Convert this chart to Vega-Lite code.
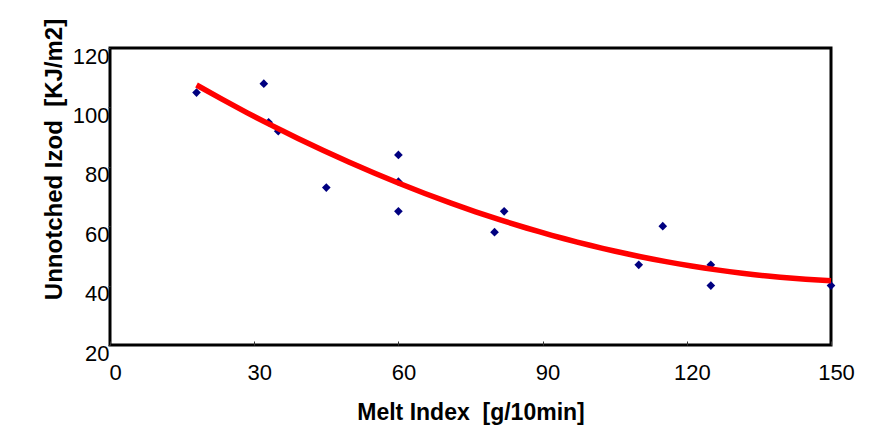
{
  "$schema": "https://vega.github.io/schema/vega-lite/v6.json",
  "width": 721,
  "height": 297,
  "autosize": {"type": "none"},
  "padding": {"left": 110, "top": 48, "right": 50, "bottom": 81},
  "background": "white",
  "config": {
    "view": {"stroke": "black", "strokeWidth": 3},
    "font": "Liberation Sans",
    "axis": {"grid": false, "domain": false, "labelColor": "black", "titleColor": "black", "tickColor": "#333", "tickWidth": 1}
  },
  "data": {
    "values": [
      {"melt": 18, "izod": 105},
      {"melt": 32, "izod": 108},
      {"melt": 33, "izod": 95},
      {"melt": 35, "izod": 92},
      {"melt": 45, "izod": 73},
      {"melt": 60, "izod": 84},
      {"melt": 60, "izod": 75},
      {"melt": 60, "izod": 65},
      {"melt": 80, "izod": 58},
      {"melt": 82, "izod": 65},
      {"melt": 110, "izod": 47},
      {"melt": 115, "izod": 60},
      {"melt": 125, "izod": 47},
      {"melt": 125, "izod": 40},
      {"melt": 150, "izod": 40}
    ]
  },
  "layer": [
    {
      "mark": {"type": "point", "shape": "diamond", "filled": true, "size": 75, "color": "#000080", "opacity": 1},
      "encoding": {
        "x": {
          "field": "melt", "type": "quantitative",
          "scale": {"domain": [0, 150], "nice": false, "zero": false},
          "axis": {
            "values": [0, 30, 60, 90, 120, 150],
            "title": "Melt Index\u00a0 [g/10min]",
            "titleFontSize": 23, "titleFontWeight": "bold",
            "titleY": 74, "titleBaseline": "alphabetic",
            "labelFontSize": 22, "labelPadding": 21, "labelOffset": 5,
            "tickSize": -4, "labelFlush": false
          }
        },
        "y": {
          "field": "izod", "type": "quantitative",
          "scale": {"domain": [20, 120], "nice": false, "zero": false},
          "axis": {
            "values": [20, 40, 60, 80, 100, 120],
            "title": "Unnotched Izod\u00a0 [KJ/m2]",
            "titleFontSize": 24, "titleFontWeight": "bold",
            "titleX": -56, "titleY": 111, "titleAngle": 270,
            "titleAlign": "center", "titleBaseline": "middle",
            "labelFontSize": 22, "labelPadding": -1, "labelOffset": 8,
            "tickSize": 2, "labelFlush": false
          }
        }
      }
    },
    {
      "transform": [{"regression": "izod", "on": "melt", "method": "poly", "order": 2, "extent": [18, 150]}],
      "mark": {"type": "line", "color": "#ff0000", "strokeWidth": 5.5},
      "encoding": {
        "x": {"field": "melt", "type": "quantitative"},
        "y": {"field": "izod", "type": "quantitative"}
      }
    }
  ]
}
